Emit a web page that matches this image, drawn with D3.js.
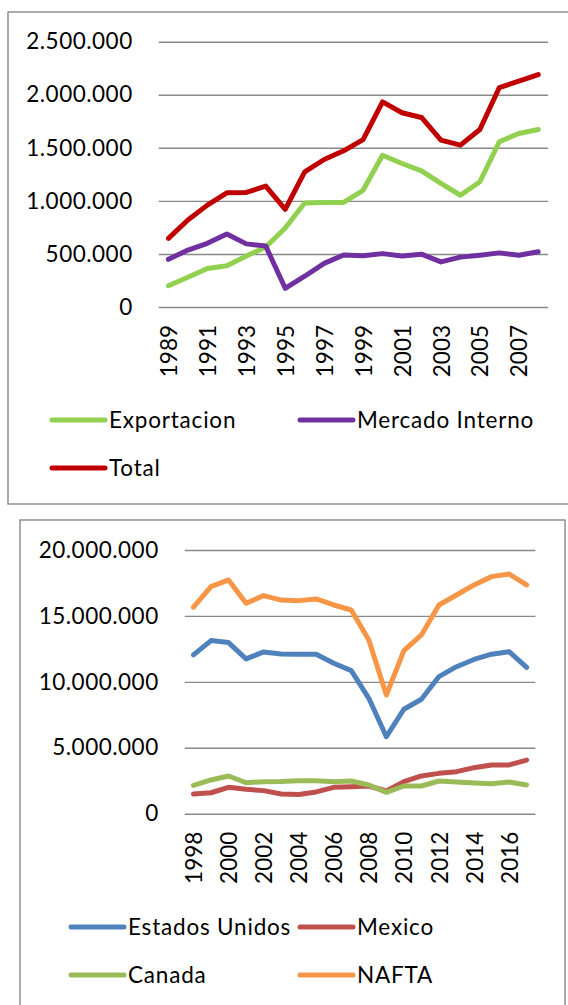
<!DOCTYPE html>
<html>
<head>
<meta charset="utf-8">
<script src="https://cdn.jsdelivr.net/npm/d3@7"></script>
<style>
  body { margin: 0; background: #fff; }
  svg { display: block; }
  text { font-family: Lato, "Open Sans", sans-serif; fill: #000; }
</style>
</head>
<body>
<script>
// ---- data: chart 1 ----
var years1 = ["1989","1990","1991","1992","1993","1994","1995","1996","1997","1998",
              "1999","2000","2001","2002","2003","2004","2005","2006","2007","2008"];
var exportacion = [200000, 280000, 362000, 388000, 480000, 565000, 745000, 980000, 985000, 985000,
                   1100000, 1430000, 1352000, 1283000, 1165000, 1053000, 1180000, 1557000, 1635000, 1672000];
var mercadoInterno = [449000, 537000, 600000, 688000, 595000, 574000, 176000, 290000, 411000, 490000,
                      482000, 503000, 480000, 498000, 425000, 470000, 488000, 510000, 488000, 520000];
var total = [647000, 820000, 960000, 1076000, 1080000, 1139000, 920000, 1274000, 1390000, 1472000,
             1578000, 1933000, 1830000, 1786000, 1572000, 1525000, 1673000, 2068000, 2128000, 2190000];
var ticks1 = [0, 500000, 1000000, 1500000, 2000000, 2500000];

// ---- data: chart 2 ----
var years2 = ["1998","1999","2000","2001","2002","2003","2004","2005","2006","2007",
              "2008","2009","2010","2011","2012","2013","2014","2015","2016","2017"];
var estadosUnidos = [12050000, 13130000, 12980000, 11740000, 12270000, 12120000, 12100000, 12090000, 11410000, 10850000,
                     8750000, 5840000, 7920000, 8680000, 10400000, 11150000, 11700000, 12100000, 12290000, 11100000];
var mexico = [1490000, 1590000, 2000000, 1850000, 1750000, 1500000, 1450000, 1650000, 2000000, 2050000,
              2100000, 1720000, 2430000, 2860000, 3060000, 3190000, 3490000, 3700000, 3700000, 4070000];
var canada = [2150000, 2560000, 2860000, 2350000, 2430000, 2450000, 2500000, 2500000, 2430000, 2480000,
              2180000, 1620000, 2100000, 2100000, 2480000, 2400000, 2330000, 2280000, 2400000, 2180000];
var nafta = [15660000, 17220000, 17730000, 15960000, 16540000, 16200000, 16160000, 16290000, 15830000, 15450000,
             13180000, 9000000, 12370000, 13560000, 15830000, 16590000, 17350000, 17980000, 18180000, 17350000];
var ticks2 = [0, 5000000, 10000000, 15000000, 20000000];

var fmt = d3.formatLocale({decimal: ",", thousands: ".", grouping: [3], currency: ["", ""]}).format(",d");

var svg = d3.select("body").append("svg").attr("width", 568).attr("height", 1005);

function drawChart(cfg) {
    // frame
    svg.append("rect")
        .attr("x", cfg.box[0]).attr("y", cfg.box[1])
        .attr("width", cfg.box[2]).attr("height", cfg.box[3])
        .attr("fill", "#fff").attr("stroke", "#898989").attr("stroke-width", 1.4);

    var x = d3.scalePoint().domain(cfg.cats).range([cfg.x0, cfg.x1]).padding(0.5);
    var y = d3.scaleLinear().domain([0, cfg.max]).range([cfg.y0, cfg.y1]);

    var g = svg.append("g");

    var yAxis = g.append("g")
        .attr("transform", "translate(" + cfg.x0 + ",0)")
        .call(d3.axisLeft(y).tickValues(cfg.ticks).tickFormat(fmt)
            .tickSize(-(cfg.x1 - cfg.x0)).tickPadding(26));
    yAxis.select(".domain").remove();
    yAxis.selectAll("line").attr("stroke", "#898989").attr("stroke-width", 1.4);
    yAxis.selectAll("text").attr("font-size", 22.5).attr("font-family", "Lato")
        .attr("letter-spacing", "0.5px");

    var xAxis = g.append("g")
        .attr("transform", "translate(0," + (cfg.y0 + 18) + ")")
        .call(d3.axisBottom(x).tickValues(cfg.cats.filter(function (d, i) { return i % 2 === 0; }))
            .tickSize(0).tickPadding(0));
    xAxis.select(".domain").remove();
    xAxis.selectAll("text")
        .attr("font-size", 22.5).attr("font-family", "Lato")
        .attr("text-anchor", "end")
        .attr("transform", "rotate(-90)")
        .attr("x", 0).attr("y", 0).attr("dy", "0.36em");

    var line = d3.line()
        .x(function (d, i) { return x(cfg.cats[i]); })
        .y(function (d) { return y(d); });

    cfg.series.forEach(function (s) {
        g.append("path")
            .datum(s.values)
            .attr("d", line)
            .attr("fill", "none")
            .attr("stroke", s.color)
            .attr("stroke-width", 5)
            .attr("stroke-linejoin", "round")
            .attr("stroke-linecap", "round");
    });

    // legend
    cfg.legend.forEach(function (it) {
        var s = cfg.series[it.idx];
        svg.append("line")
            .attr("x1", it.x).attr("x2", it.x + 53)
            .attr("y1", it.y).attr("y2", it.y)
            .attr("stroke", s.color).attr("stroke-width", 5).attr("stroke-linecap", "round");
        svg.append("text")
            .attr("x", it.x + 57).attr("y", it.y)
            .attr("dy", "0.36em")
            .attr("font-size", 22.5)
            .attr("letter-spacing", "0.8px")
            .text(s.name);
    });
}

drawChart({
    box: [8, 12, 575, 492],
    cats: years1,
    x0: 158.7, x1: 548,
    y0: 307, y1: 41.7,
    max: 2500000,
    ticks: ticks1,
    series: [
        {name: "Exportacion", values: exportacion, color: "#92D050"},
        {name: "Mercado Interno", values: mercadoInterno, color: "#7030A0"},
        {name: "Total", values: total, color: "#C00000"}
    ],
    legend: [
        {idx: 0, x: 52, y: 420},
        {idx: 1, x: 300, y: 420},
        {idx: 2, x: 52, y: 468}
    ]
});

drawChart({
    box: [20, 520, 545, 500],
    cats: years2,
    x0: 184.7, x1: 535.4,
    y0: 813.7, y1: 550,
    max: 20000000,
    ticks: ticks2,
    series: [
        {name: "Estados Unidos", values: estadosUnidos, color: "#4F81BD"},
        {name: "Mexico", values: mexico, color: "#C0504D"},
        {name: "Canada", values: canada, color: "#9BBB59"},
        {name: "NAFTA", values: nafta, color: "#F79646"}
    ],
    legend: [
        {idx: 0, x: 71, y: 927},
        {idx: 1, x: 300, y: 927},
        {idx: 2, x: 71, y: 975},
        {idx: 3, x: 300, y: 975}
    ]
});
</script>
</body>
</html>
